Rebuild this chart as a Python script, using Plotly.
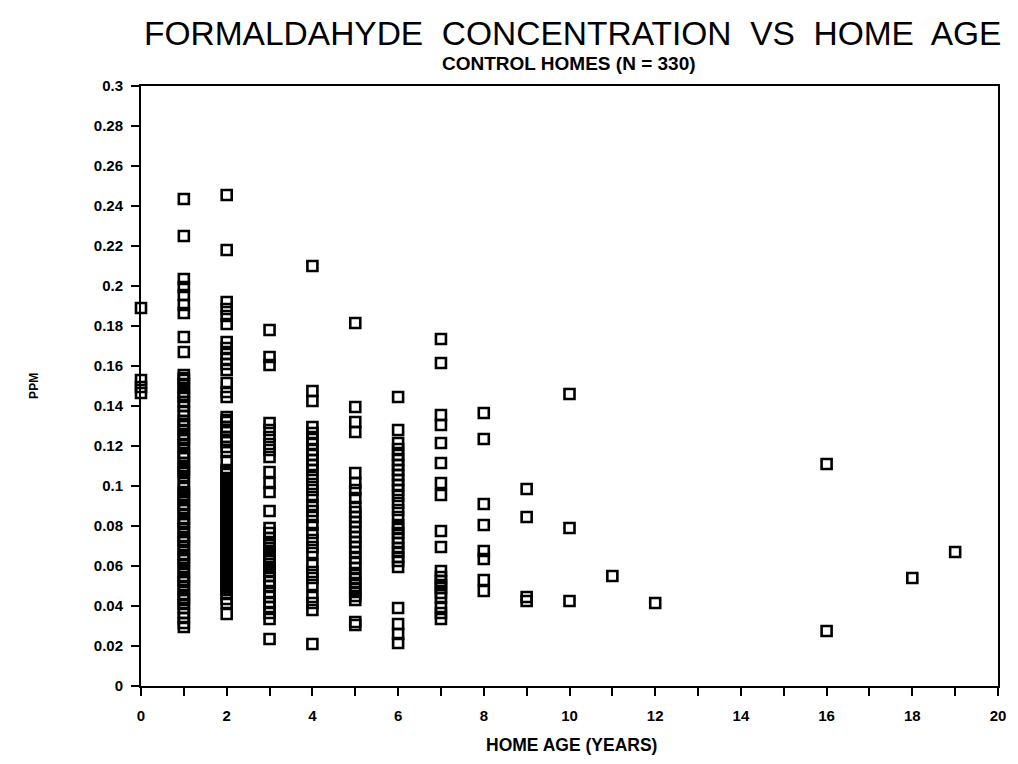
import plotly.graph_objects as go

# ---- data: formaldehyde (ppm) by home age (years) ----
age_0 = [0.189, 0.153, 0.1495, 0.1465]
age_1 = [0.2435, 0.225, 0.2035, 0.1995, 0.1955, 0.1905, 0.1865, 0.1745, 0.167,
         0.1555, 0.154, 0.153, 0.151, 0.149, 0.147, 0.1455, 0.1445, 0.142, 0.14, 0.1375,
         0.135, 0.1325, 0.131, 0.13, 0.128, 0.1255, 0.124, 0.123, 0.121, 0.119, 0.1165,
         0.115, 0.114, 0.1115, 0.109, 0.108, 0.107, 0.105,
         0.1015, 0.099, 0.097, 0.0955, 0.095, 0.093, 0.0905, 0.089, 0.088, 0.086, 0.0835,
         0.082, 0.081, 0.079, 0.077, 0.0745, 0.073, 0.072, 0.07, 0.068, 0.0655, 0.064,
         0.063, 0.061, 0.059, 0.057, 0.0545, 0.053, 0.052, 0.05, 0.048, 0.0455, 0.044,
         0.043, 0.041, 0.039, 0.0365, 0.034, 0.0315, 0.0295]
age_2 = [0.2455, 0.218, 0.192, 0.1885, 0.185, 0.181, 0.172, 0.169, 0.166, 0.1635,
         0.161, 0.158, 0.1515, 0.147, 0.1445,
         0.1345, 0.133, 0.132, 0.1295, 0.128, 0.127, 0.1245, 0.123, 0.122, 0.1195, 0.117,
         0.1125, 0.108, 0.107, 0.106, 0.104, 0.103, 0.102, 0.1, 0.099, 0.098, 0.096,
         0.095, 0.094, 0.092, 0.091, 0.09, 0.088, 0.086, 0.085, 0.084, 0.082, 0.08,
         0.079, 0.078, 0.076, 0.074, 0.073, 0.072, 0.07, 0.068, 0.067, 0.066, 0.064,
         0.062, 0.061, 0.06, 0.058, 0.056, 0.055, 0.054, 0.052, 0.05, 0.049, 0.048,
         0.046, 0.0435, 0.0415, 0.036]
age_3 = [0.178, 0.1645, 0.1605, 0.1315, 0.128, 0.1245, 0.121, 0.118, 0.1145, 0.107,
         0.1015, 0.097, 0.0875, 0.079, 0.0765, 0.074, 0.072, 0.0705, 0.069, 0.0675,
         0.066, 0.0645, 0.063, 0.061, 0.059, 0.057, 0.055, 0.0525, 0.05, 0.0465,
         0.0445, 0.042, 0.0395, 0.0365, 0.0335, 0.0235]
age_4 = [0.21, 0.1475, 0.1425, 0.1295, 0.1265, 0.1235, 0.121, 0.118, 0.1155, 0.113,
         0.1105, 0.108, 0.1045, 0.101, 0.098, 0.0945, 0.0905, 0.0875, 0.0845, 0.0805,
         0.0765, 0.073, 0.0695, 0.0665, 0.0605, 0.057, 0.054, 0.0505, 0.0445, 0.0415,
         0.038, 0.021]
age_5 = [0.1815, 0.1395, 0.132, 0.127, 0.1065, 0.1015, 0.098, 0.094, 0.0895, 0.087,
         0.0845, 0.082, 0.0795, 0.077, 0.0745, 0.072, 0.0695, 0.067, 0.064, 0.0615,
         0.059, 0.0555, 0.0535, 0.0515, 0.049, 0.047, 0.045, 0.043, 0.032, 0.0305]
age_6 = [0.1445, 0.128, 0.1215, 0.1185, 0.1155, 0.113, 0.1105, 0.108, 0.1055, 0.103,
         0.1005, 0.098, 0.095, 0.0915, 0.088, 0.0845, 0.0805, 0.0785, 0.0765, 0.074,
         0.0715, 0.069, 0.067, 0.0645, 0.0625, 0.0595, 0.039, 0.031, 0.026, 0.0215]
age_7 = [0.1735, 0.1615, 0.1355, 0.1305, 0.1215, 0.1115, 0.1015, 0.0955, 0.0775,
         0.0695, 0.0575, 0.0545, 0.0525, 0.0505, 0.049, 0.0465, 0.044, 0.0395, 0.0365,
         0.0335]
age_8 = [0.1365, 0.1235, 0.091, 0.0805, 0.0675, 0.0635, 0.053, 0.0475]
age_9 = [0.0985, 0.0845, 0.0445, 0.0425]
age_10 = [0.146, 0.079, 0.0425]
age_11 = [0.055]
age_12 = [0.0415]
age_16 = [0.111, 0.0275]
age_18 = [0.054]
age_19 = [0.067]

ages = [0, 1, 2, 3, 4, 5, 6, 7, 8, 9, 10, 11, 12, 16, 18, 19]
groups = [age_0, age_1, age_2, age_3, age_4, age_5, age_6, age_7, age_8, age_9,
          age_10, age_11, age_12, age_16, age_18, age_19]

x_tick_vals = list(range(0, 21))
x_tick_text = ["0", "", "2", "", "4", "", "6", "", "8", "", "10", "", "12", "",
               "14", "", "16", "", "18", "", "20"]
y_tick_vals = [0, 0.02, 0.04, 0.06, 0.08, 0.1, 0.12, 0.14, 0.16, 0.18, 0.2,
               0.22, 0.24, 0.26, 0.28, 0.3]
y_tick_text = ["0", "0.02", "0.04", "0.06", "0.08", "0.1", "0.12", "0.14", "0.16",
               "0.18", "0.2", "0.22", "0.24", "0.26", "0.28", "0.3"]

xs, ys = [], []
for a, vals in zip(ages, groups):
    xs.extend([a] * len(vals))
    ys.extend(vals)

fig = go.Figure()
fig.add_trace(go.Scatter(
    x=xs, y=ys, mode="markers", cliponaxis=False,
    marker=dict(symbol="square-open", size=10, color="black", line=dict(width=2.6)),
    showlegend=False,
))

FONT = "Liberation Sans"
axis_common = dict(
    showgrid=False, zeroline=False, showline=True, linecolor="black", linewidth=2,
    mirror=True, ticks="outside", ticklen=8, tickwidth=2, tickcolor="black",
    tickfont=dict(family=FONT, size=15, color="black", weight="bold"),
)
fig.update_xaxes(range=[0, 20], tickmode="array", tickvals=x_tick_vals,
                 ticktext=x_tick_text, ticklabelstandoff=7, **axis_common)
fig.update_yaxes(range=[0, 0.3], tickmode="array", tickvals=y_tick_vals,
                 ticktext=y_tick_text, ticklabelstandoff=5, **axis_common)

fig.update_layout(
    width=1018, height=764,
    margin=dict(l=141, r=15, t=86, b=78),
    paper_bgcolor="white", plot_bgcolor="white",
    font=dict(family=FONT, color="black"),
    annotations=[
        dict(text="FORMALDAHYDE  CONCENTRATION  VS  HOME  AGE", x=0.503, y=1.088,
             xref="paper", yref="paper", showarrow=False, xanchor="center",
             yanchor="middle", font=dict(family=FONT, size=33.5, color="black")),
        dict(text="CONTROL HOMES (N = 330)", x=0.499, y=1.038,
             xref="paper", yref="paper", showarrow=False, xanchor="center",
             yanchor="middle", font=dict(family=FONT, size=19, color="black", weight="bold")),
        dict(text="HOME AGE (YEARS)", x=0.502, y=-0.098,
             xref="paper", yref="paper", showarrow=False, xanchor="center",
             yanchor="middle", font=dict(family=FONT, size=17.5, color="black", weight="bold")),
        dict(text="PPM", x=-0.125, y=0.5, textangle=-90,
             xref="paper", yref="paper", showarrow=False, xanchor="center",
             yanchor="middle", font=dict(family=FONT, size=12, color="black", weight="bold")),
    ],
)

fig.write_html("out.html")
